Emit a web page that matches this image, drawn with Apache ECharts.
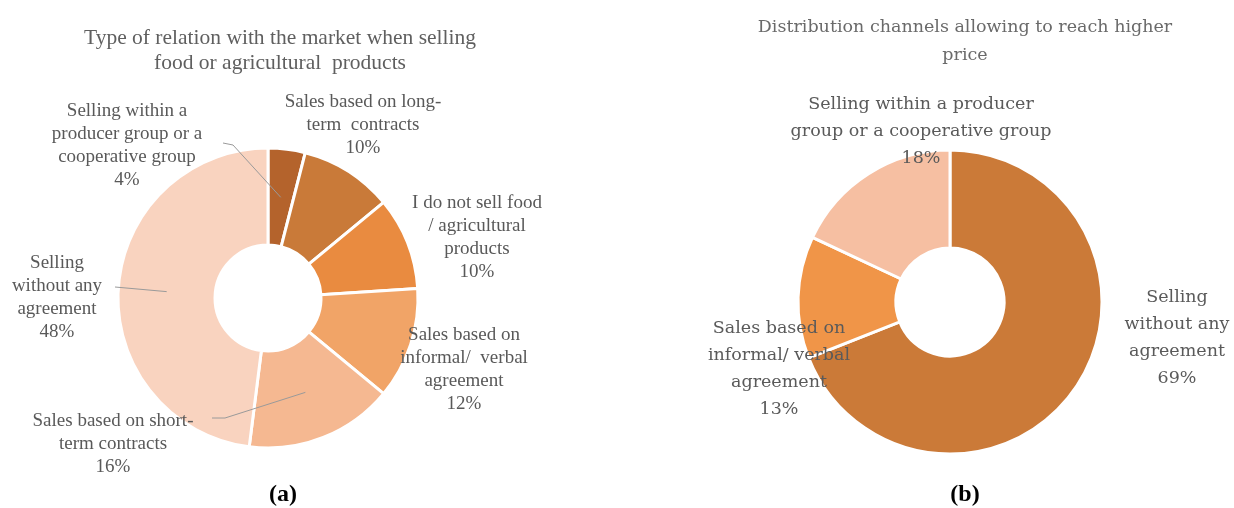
<!DOCTYPE html>
<html>
<head>
<meta charset="utf-8">
<script src="https://cdn.jsdelivr.net/npm/echarts@6/dist/echarts.min.js"></script>
<style>html,body{margin:0;padding:0;background:#fff}#c{width:1234px;height:508px}</style>
</head>
<body>
<div id="c"></div>
<script>
// Chart (a)
const catsA = [
  'Selling within a\nproducer group or a\ncooperative group',
  'Sales based on long-\nterm  contracts',
  'I do not sell food\n/ agricultural\nproducts',
  'Sales based on\ninformal/  verbal\nagreement',
  'Sales based on short-\nterm contracts',
  'Selling\nwithout any\nagreement'
];
const valsA = [4, 10, 10, 12, 16, 48];
// Chart (b)
const catsB = [
  'Selling\nwithout any\nagreement',
  'Sales based on\ninformal/ verbal\nagreement',
  'Selling within a producer\ngroup or a cooperative group'
];
const valsB = [69, 13, 18];

const colorsA = ['#B4632C', '#C97A39', '#E98B40', '#F1A467', '#F5B891', '#F9D3BF'];
const colorsB = ['#CB7A38', '#F09548', '#F6BFA2'];
const lineA = [true, false, false, false, true, true];
const labelPosA = [[127,146],[363,125],[477,238],[464,370],[113,444],[57,298]];
const labelPosB = [[1177,338],[779,369],[921,131]];
// leader-line bend/end points near the labels (label side only)
const leaderA = [[[233,145],[223,143]], null, null, null, [[225,418],[212,418]], [[115,287]]];

const centerA = [268, 298], radiusA = [53, 150];
const centerB = [950, 302], radiusB = [54, 152];

function build(cats, vals, colors, lines) {
  return cats.map((c, i) => ({
    name: c, value: vals[i],
    itemStyle: { color: colors ? colors[i] : 'rgba(0,0,0,0)' },
    labelLine: { show: lines ? lines[i] : false }
  }));
}

// start of a leader line: middle of the ring at the slice's mid angle
function leaderStart(vals, idx, center, radius) {
  const total = vals.reduce((a, b) => a + b, 0);
  let cum = 0;
  for (let i = 0; i < idx; i++) cum += vals[i];
  const frac = (cum + vals[idx] / 2) / total;
  const ang = Math.PI / 2 - frac * Math.PI * 2;
  const r = (radius[0] + radius[1]) / 2;
  return [center[0] + r * Math.cos(ang), center[1] - r * Math.sin(ang)];
}

const chart = echarts.init(document.getElementById('c'), null, {renderer: 'canvas'});
chart.setOption({
  animation: false,
  title: [
    { text: 'Type of relation with the market when selling\nfood or agricultural  products',
      left: 275, top: 21, textAlign: 'center',
      textStyle: { fontFamily: 'Liberation Serif', fontSize: 21.5, fontWeight: 'normal', color: '#5f5f5f', lineHeight: 25 } },
    { text: 'Distribution channels allowing to reach higher\nprice',
      left: 960, top: 8, textAlign: 'center',
      textStyle: { fontFamily: 'DejaVu Serif', fontSize: 17.5, fontWeight: 'normal', color: '#6a6a6a', lineHeight: 28 } },
    { text: '{p|(}{b|a}{p|)}', left: 278, top: 478, textAlign: 'center',
      textStyle: { rich: { p: { fontFamily: 'Liberation Serif', fontSize: 24, color: '#000' }, b: { fontFamily: 'Liberation Serif', fontSize: 24, fontWeight: 'bold', color: '#000' } } } },
    { text: '{p|(}{b|b}{p|)}', left: 960, top: 478, textAlign: 'center',
      textStyle: { rich: { p: { fontFamily: 'Liberation Serif', fontSize: 24, color: '#000' }, b: { fontFamily: 'Liberation Serif', fontSize: 24, fontWeight: 'bold', color: '#000' } } } }
  ],
  series: [
    {
      // slices of chart (a)
      type: 'pie', z: 2, center: centerA, radius: radiusA, startAngle: 90, clockwise: true,
      itemStyle: { borderColor: '#fff', borderWidth: 3 },
      label: { show: false }, labelLine: { show: false },
      data: build(catsA, valsA, colorsA, null)
    },
    {
      // transparent overlay of chart (a) carrying labels and leader lines above the slices
      type: 'pie', z: 5, silent: true, center: centerA, radius: radiusA, startAngle: 90, clockwise: true,
      itemStyle: { borderWidth: 0 },
      label: { show: true, formatter: '{b}\n{d}%', fontFamily: 'Liberation Serif', fontSize: 19, lineHeight: 23, color: '#595959', align: 'center', width: 220, overflow: 'none' },
      labelLine: { lineStyle: { color: '#9a9a9a', width: 1 }, length: 10, length2: 10, smooth: false },
      labelLayout: function (p) {
        const q = labelPosA[p.dataIndex];
        const out = { x: q[0], y: q[1], align: 'center', verticalAlign: 'middle' };
        const lead = leaderA[p.dataIndex];
        if (lead) {
          out.labelLinePoints = [leaderStart(valsA, p.dataIndex, centerA, radiusA)].concat(lead);
        }
        return out;
      },
      data: build(catsA, valsA, null, lineA)
    },
    {
      type: 'pie', z: 2, center: centerB, radius: radiusB, startAngle: 90, clockwise: true,
      itemStyle: { borderColor: '#fff', borderWidth: 3 },
      label: { show: true, formatter: '{b}\n{d}%', fontFamily: 'DejaVu Serif', fontSize: 17.5, lineHeight: 27, color: '#5a5a5a', align: 'center', width: 300, overflow: 'none' },
      labelLine: { show: false },
      labelLayout: function (p) { const q = labelPosB[p.dataIndex]; return { x: q[0], y: q[1], align: 'center', verticalAlign: 'middle' }; },
      data: build(catsB, valsB, colorsB, null)
    }
  ]
});
</script>
</body>
</html>
